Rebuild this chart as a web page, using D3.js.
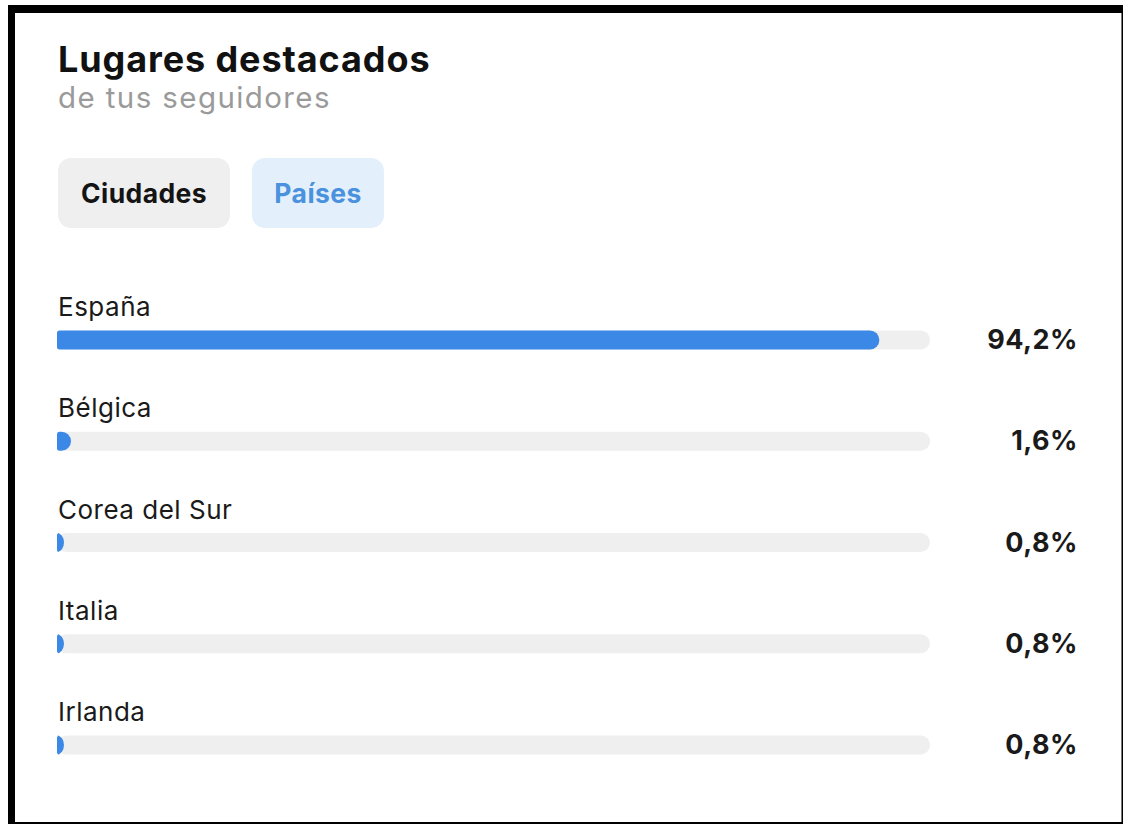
<!DOCTYPE html>
<html>
<head>
<meta charset="utf-8">
<script src="https://cdn.jsdelivr.net/npm/d3@7"></script>
<style>
  html, body { margin: 0; padding: 0; background: #fff; }
  svg { display: block; }
  text { font-family: Inter, "Open Sans", sans-serif; }
</style>
</head>
<body>
<svg id="chart" width="1123" height="824"></svg>
<script>
// Top follower locations by country (percent of followers)
const countries = ["España", "Bélgica", "Corea del Sur", "Italia", "Irlanda"];
const shares = [94.2, 1.6, 0.8, 0.8, 0.8];
const tabs = ["Ciudades", "Países"];
const activeTab = "Países";

const svg = d3.select("#chart");
const W = 1123, H = 824;

// card frame
svg.append("rect").attr("x", 8).attr("y", 5).attr("width", W - 8).attr("height", H - 5).attr("fill", "#000");
svg.append("rect").attr("x", 15).attr("y", 13).attr("width", W - 17).attr("height", H - 15).attr("fill", "#fff");
svg.append("line").attr("x1", W - 1.5).attr("x2", W - 1.5).attr("y1", 13).attr("y2", H - 2)
  .attr("stroke", "#777").attr("stroke-width", 1);

// heading
svg.append("text").attr("x", 58).attr("y", 72)
  .attr("font-size", 36).attr("font-weight", 700).attr("fill", "#111")
  .attr("letter-spacing", 0.9)
  .text("Lugares destacados");
svg.append("text").attr("x", 58).attr("y", 108)
  .attr("font-size", 29.5).attr("font-weight", 400).attr("fill", "#9a9a9a")
  .attr("letter-spacing", 1.4)
  .text("de tus seguidores");

// tab buttons
const tabX = d3.scaleOrdinal().domain(tabs).range([58, 252]);
const tabW = { "Ciudades": 172, "Países": 132 };
const tabG = svg.selectAll("g.tab").data(tabs).join("g").attr("class", "tab")
  .attr("transform", d => `translate(${tabX(d)},158)`);
tabG.append("rect").attr("width", d => tabW[d]).attr("height", 70).attr("rx", 13)
  .attr("fill", d => d === activeTab ? "#e3f0fc" : "#efefef");
tabG.append("text").attr("x", d => tabW[d] / 2).attr("y", 45)
  .attr("text-anchor", "middle").attr("font-size", 26.5).attr("font-weight", 700)
  .attr("letter-spacing", 0.4)
  .attr("fill", d => d === activeTab ? "#4a92dd" : "#141414")
  .text(d => d);

// bars
const x = d3.scaleLinear().domain([0, 100]).range([57, 930]);
const y = d3.scalePoint().domain(countries).range([340, 745]);
const barH = 19;

function barPath(x0, x1, yc, h) {
  const w = x1 - x0;
  const r = Math.min(h / 2, w);
  const rl = Math.min(2.5, w / 2);
  const top = yc - h / 2, bot = yc + h / 2;
  return `M${x0 + rl},${top} L${x1 - r},${top} A${r},${h / 2} 0 0 1 ${x1 - r},${bot}` +
         ` L${x0 + rl},${bot} Q${x0},${bot} ${x0},${bot - rl} L${x0},${top + rl} Q${x0},${top} ${x0 + rl},${top} Z`;
}

const rows = svg.selectAll("g.row").data(countries.map((c, i) => ({ c, v: shares[i] })))
  .join("g").attr("class", "row");

rows.append("rect")
  .attr("x", x(0)).attr("y", d => y(d.c) - barH / 2)
  .attr("width", x(100) - x(0)).attr("height", barH).attr("rx", barH / 2)
  .attr("fill", "#efefef");

rows.append("path")
  .attr("d", d => barPath(x(0), x(d.v), y(d.c), barH))
  .attr("fill", "#3b88e6");

rows.append("text")
  .attr("x", 58).attr("y", d => y(d.c) - 24)
  .attr("font-size", 26).attr("font-weight", 400).attr("fill", "#1a1a1a")
  .attr("letter-spacing", 0.5)
  .text(d => d.c);

const fmt = v => d3.format(".1f")(v).replace(".", ",") + "%";
rows.append("text")
  .attr("x", 1078).attr("y", d => y(d.c) + 9)
  .attr("text-anchor", "end")
  .attr("font-size", 27).attr("font-weight", 700).attr("fill", "#1a1a1a")
  .attr("letter-spacing", 0.5)
  .text(d => fmt(d.v));
</script>
</body>
</html>
